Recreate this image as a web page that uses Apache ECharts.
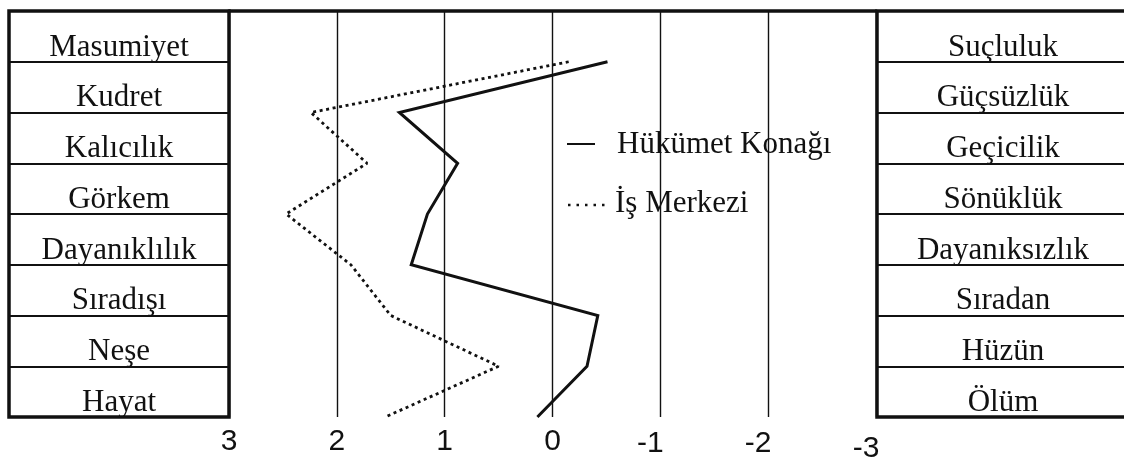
<!DOCTYPE html>
<html>
<head>
<meta charset="utf-8">
<script src="https://cdn.jsdelivr.net/npm/echarts@6/dist/echarts.min.js"></script>
<style>
  html, body { margin: 0; padding: 0; background: #fff; }
  #chart { width: 1124px; height: 458px; }
</style>
</head>
<body>
<div id="chart"></div>
<script>
// Semantic differential profile: each pair of opposite adjectives sits on one row,
// the scale runs from 3 (left adjective) to -3 (right adjective).
const leftTerms = ['Masumiyet', 'Kudret', 'Kalıcılık', 'Görkem', 'Dayanıklılık', 'Sıradışı', 'Neşe', 'Hayat'];
const rightTerms = ['Suçluluk', 'Güçsüzlük', 'Geçicilik', 'Sönüklük', 'Dayanıksızlık', 'Sıradan', 'Hüzün', 'Ölüm'];
const scaleTicks = [3, 2, 1, 0, -1, -2, -3];

const hukumetKonagi = [-0.51, 1.42, 0.88, 1.16, 1.31, -0.42, -0.32, 0.14];
const isMerkezi = [-0.15, 2.24, 1.72, 2.47, 1.87, 1.50, 0.50, 1.55];

const seriesNames = ['Hükümet Konağı', 'İş Merkezi'];

// each profile point sits on the lower edge of its row
const toPoints = vals => vals.map((v, i) => [v, i + 1]);

const SERIF = '"Liberation Serif", "Times New Roman", serif';
const SANS = '"Liberation Sans", Arial, sans-serif';
const INK = '#111';

const chart = echarts.init(document.getElementById('chart'), null, { renderer: 'canvas' });

function boxAxis(gridIndex, terms, half) {
  return {
    type: 'category', gridIndex, data: terms, inverse: true, position: 'left',
    axisLine: { show: false }, axisTick: { show: false },
    splitLine: { show: true, lineStyle: { color: INK, width: 2 } },
    axisLabel: {
      inside: true, interval: 0, margin: half, align: 'center',
      formatter: t => '{w|' + t + '}',
      rich: { w: { color: INK, fontFamily: SERIF, fontSize: 31, padding: [22, 0, 0, 0] } }
    }
  };
}

const hiddenX = gi => ({ type: 'value', gridIndex: gi, min: 0, max: 1, show: false });

const box = { show: true, borderColor: INK, borderWidth: 3.5, backgroundColor: 'transparent', outerBoundsMode: 'none', containLabel: false };

chart.setOption({
  backgroundColor: '#fff',
  animation: false,
  grid: [
    Object.assign({ left: 9, top: 11, width: 220, height: 406 }, box),
    { left: 229, top: 11, width: 647, height: 406, outerBoundsMode: 'none', containLabel: false },
    Object.assign({ left: 877, top: 11, width: 252, height: 406 }, box)
  ],
  xAxis: [
    hiddenX(0),
    {
      type: 'value', gridIndex: 1, min: -3, max: 3, interval: 1, inverse: true,
      position: 'bottom',
      axisLine: { show: true, lineStyle: { color: INK, width: 3.5 } },
      axisTick: { show: false },
      splitLine: { show: true, lineStyle: { color: INK, width: 1.4 } },
      axisLabel: {
        margin: 10, color: INK, fontFamily: SANS, fontSize: 30,
        formatter: v => {
          if (v < 0) return (v === -3 ? '{nl|' : '{n|') + '-' + (-v) + '}';
          return '{p|' + v + '}';
        },
        rich: {
          p: { fontFamily: SANS, fontSize: 30, color: INK },
          n: { fontFamily: SANS, fontSize: 30, color: INK, padding: [2, 20, 0, 0] },
          nl: { fontFamily: SANS, fontSize: 30, color: INK, padding: [7, 20, 0, 0] }
        }
      }
    },
    hiddenX(2)
  ],
  yAxis: [
    boxAxis(0, leftTerms, 110),
    { type: 'value', gridIndex: 1, min: 0, max: leftTerms.length, inverse: true, show: false },
    boxAxis(2, rightTerms, 126)
  ],
  series: [
    {
      name: seriesNames[0], type: 'line', xAxisIndex: 1, yAxisIndex: 1,
      data: toPoints(hukumetKonagi), symbol: 'none', z: 5,
      lineStyle: { color: INK, width: 3, join: 'miter' }
    },
    {
      name: seriesNames[1], type: 'line', xAxisIndex: 1, yAxisIndex: 1,
      data: toPoints(isMerkezi), symbol: 'none', z: 5,
      lineStyle: { color: INK, width: 2.8, type: [3, 3.6] }
    }
  ],
  graphic: [
    {
      type: 'group', z: 10,
      children: [
        { type: 'rect', shape: { x: 558, y: 118, width: 292, height: 144 }, style: { fill: '#fff' } },
        { type: 'line', shape: { x1: 567, y1: 144, x2: 595, y2: 144 }, style: { stroke: INK, lineWidth: 2 } },
        { type: 'line', shape: { x1: 568, y1: 205, x2: 606, y2: 205 }, style: { stroke: INK, lineWidth: 2.5, lineDash: [2.5, 6] } },
        { type: 'text', x: 617, y: 160, style: { text: seriesNames[0], font: '31px ' + SERIF, fill: INK, verticalAlign: 'bottom' } },
        { type: 'text', x: 615, y: 219, style: { text: seriesNames[1], font: '31px ' + SERIF, fill: INK, verticalAlign: 'bottom' } }
      ]
    }
  ]
});
</script>
</body>
</html>
